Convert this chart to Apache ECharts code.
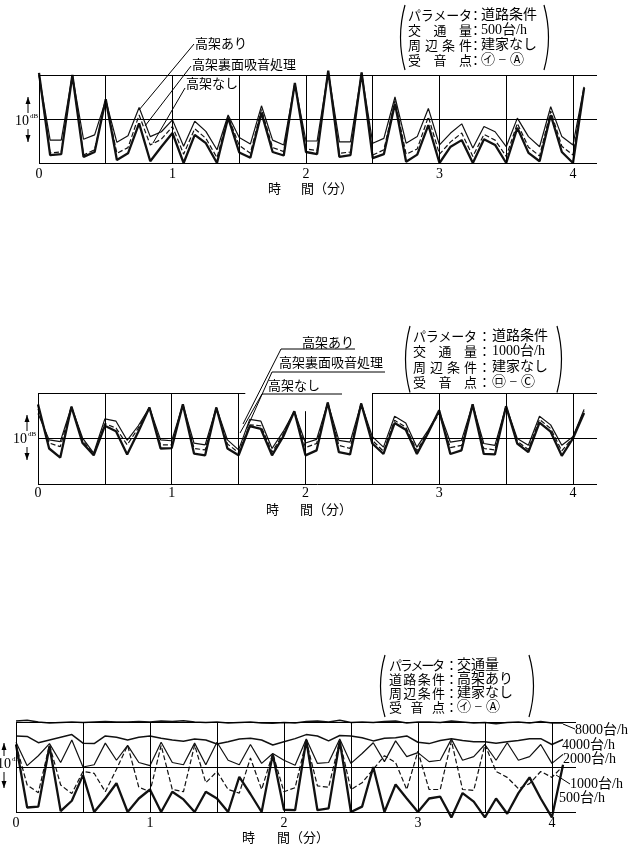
<!DOCTYPE html>
<html><head><meta charset="utf-8">
<script src="https://cdn.jsdelivr.net/npm/echarts/dist/echarts.min.js"></script>
<style>html,body{margin:0;padding:0;background:#fff}#c{width:637px;height:847px}</style>
</head><body><div id="c"></div>
<script>
// ---- data (time step: 5 s = 1/12 min) ----
const STEP = 1 / 12;
const xTickLabels = [0, 1, 2, 3, 4];
const gridTimes = [0, 0.5, 1, 1.5, 2, 2.5, 3, 3.5, 4];
const legend12 = ['高架あり', '高架裏面吸音処理', '高架なし'];
const legend3 = ['8000台/h', '4000台/h', '2000台/h', '1000台/h', '500台/h'];

// chart 1 (500台/h)
const c1Ari   = [20,5.2,5.2,20,5.4,6.4,14.3,4.7,6.2,12.6, 6.0,7.1,9.8,3.8,9.5,7.2,3.0,10.9,5.8,4.3, 13.0,5.2,4.1,18.1,5.0,5.0,20.8,4.8,4.8,20.5, 4.5,5.6,15.0,4.5,6.0,12.4,4.1,6.8,8.9,3.4, 8.3,7.1,3.7,10.2,6.0,3.7,12.8,6.0,4.1,17.3];
const c1Kyuon = [20,2.3,2.5,20,1.8,3.0,14.3,2.2,3.5,10.9, 4.1,5.4,8.3,2.0,7.8,5.6,1.2,10.6,4.0,2.2, 12.2,3.5,2.6,18.1,3.2,2.8,20.8,2.2,2.5,20.5, 1.8,3.0,14.2,2.0,3.2,10.5,2.0,4.8,6.8,1.5, 6.5,5.2,1.5,9.0,3.6,1.6,11.8,3.8,1.8,17.2];
const c1Nashi = [20.5,1.8,2.0,20,1.4,2.5,14.5,0.7,2.2,9.0, 0.4,3.7,6.8,0.0,6.4,4.5,0.0,10.3,2.4,1.2, 11.4,2.5,1.7,18.2,2.5,2.0,21,1.4,1.8,20.6, 1.1,2.0,13.5,0.3,1.9,8.6,0.0,3.7,5.2,0.0, 5.4,4.1,0.0,8.0,2.3,0.4,10.9,2.5,0.0,17.0];

// chart 2 (1000台/h)
const c2Ari   = [15.5,9.7,9.3,17.0,10.1,6.8,14.3,13.8,9.6,12.8, 16.8,9.7,9.5,17.5,9.0,8.6,16.8,9.7,7.5,14.2, 13.8,7.8,11.5,16.0,9.0,9.8,17.9,9.6,9.2,17.7, 10.4,8.1,14.9,13.4,8.1,11.8,16.0,9.2,9.6,17.5, 8.9,8.5,17.1,10.0,8.5,14.9,13.0,8.5,10.4,16.4];
const c2Kyuon = [16.5,9.0,8.2,17.0,9.6,6.5,13.3,12.3,8.6,12.3, 16.8,8.6,8.6,17.5,7.8,7.5,16.8,8.8,6.9,13.0, 12.8,7.0,11.0,16.0,8.0,8.9,17.9,8.5,7.8,17.7, 9.6,7.2,14.0,12.5,7.3,11.5,15.5,8.0,8.5,17.5, 7.8,7.5,17.1,9.4,7.6,14.2,12.2,7.3,10.2,16.0];
const c2Nashi = [17.5,7.8,5.8,17.0,9.0,6.3,12.8,11.6,6.5,11.5, 16.8,7.8,7.9,17.5,6.7,6.3,16.8,7.8,6.3,12.7, 12.1,6.3,10.4,16.0,6.3,7.4,17.9,7.0,6.5,17.7, 8.9,6.6,13.4,11.9,6.6,11.2,16.2,6.6,7.4,17.5, 6.6,6.5,17.1,8.9,7.0,13.5,11.5,6.2,10.0,15.6];

// chart 3 (traffic volume)
const c3v8000 = [20.2,20.4,20.0,19.8,19.9,20.0,19.9,20.0,20.1,20.0, 20.0,20.1,20.0,20.2,20.1,20.3,20.0,19.9,20.0,19.8, 19.9,20.0,19.8,19.7,19.9,19.8,20.1,20.2,20.0,20.4, 19.9,20.0,19.9,20.1,20.2,19.8,20.0,20.0,19.9,20.2, 20.0,19.8,19.9,19.6,19.9,20.0,19.8,20.1,19.8,19.8];
const c3v4000 = [16.9,16.8,15.4,16.0,16.6,17.2,15.3,15.2,16.9,16.6, 16.0,16.6,16.9,16.4,16.0,15.7,16.2,16.0,15.1,15.6, 16.2,16.4,16.0,14.9,15.6,16.3,17.2,16.9,15.8,17.0, 16.9,16.5,15.8,16.4,16.5,16.9,15.5,15.2,15.9,16.3, 15.9,15.6,15.6,15.3,15.6,15.9,16.3,16.3,15.0,16.1];
const c3v2000 = [15.5,10.3,12.5,15.2,11.0,16.0,10.0,10.5,15.3,11.5, 14.8,11.0,10.3,15.5,11.0,10.5,15.3,10.5,15.5,11.5, 10.5,15.0,10.8,13.0,11.5,10.4,16.2,10.8,11.0,16.2, 10.8,13.0,15.4,11.2,15.8,12.3,13.2,11.2,11.5,16.2, 11.5,12.3,15.0,11.5,15.4,11.5,12.3,15.0,10.8,12.8];
const c3v1000 = [15.0,6.0,4.3,14.9,6.0,4.1,9.0,8.6,4.5,9.5, 14.8,5.5,4.5,14.8,5.0,4.5,14.9,6.5,9.0,5.0, 4.2,12.0,5.0,13.0,4.5,5.4,15.8,5.8,5.5,15.8, 5.0,6.5,9.5,12.5,11.0,5.0,13.5,5.0,5.0,15.8, 5.0,4.8,15.0,9.0,7.7,5.2,6.3,9.0,7.7,10.2];
const c3v500  = [15.0,1.0,1.2,14.6,0.2,2.5,8.2,0.0,3.0,6.4, 0.0,3.0,5.0,0.0,4.5,2.8,0.0,4.5,3.0,0.0, 7.8,4.0,0.0,12.8,0.5,0.4,16.0,0.4,0.8,15.8, 0.0,1.2,10.0,0.0,6.1,3.0,0.0,3.0,3.4,-1.2, 4.2,2.3,-1.2,3.0,-0.4,4.2,7.7,3.0,-1.2,10.5];

// ---- build ----
const JP = '"Noto Sans CJK JP"';
const SERIF = '"Liberation Serif", "Noto Sans CJK JP"';
const XMAX = 4.18;
const chart = echarts.init(document.getElementById('c'), null, {renderer: 'canvas', width: 637, height: 847});

function pts(arr) { return arr.map((v, i) => [i * STEP, v]); }
function ser(name, arr, gi, kind, mark) {
  const s = {
    type: 'line', name: name, xAxisIndex: gi, yAxisIndex: gi, data: pts(arr),
    symbol: 'none', clip: false, animation: false, silent: true,
    lineStyle: {color: '#111', width: kind === 'thick' ? 2.3 : (kind === 'mid' ? 1.5 : 1.2), type: kind === 'dash' ? [5, 2.5] : 'solid'}
  };
  if (mark) s.markLine = mark;
  return s;
}
function gridMark(data) {
  return {silent: true, symbol: ['none', 'none'], animation: false, label: {show: false},
    lineStyle: {color: '#000', width: 1, type: 'solid'}, emphasis: {disabled: true}, data: data};
}
const full = gridTimes.map(t => ({xAxis: t})).concat([{yAxis: 0}, {yAxis: 10}, {yAxis: 20}]);
const mid = gridTimes.filter(t => t !== 2).map(t => ({xAxis: t})).concat([
  {yAxis: 0}, {yAxis: 10},
  [{coord: [0, 20]}, {coord: [1.55, 20]}],
  [{coord: [2.5, 20]}, {coord: [XMAX, 20]}],
  [{coord: [2, 16]}, {coord: [2, 0]}]
]);

const grids = [
  {left: 39, top: 75, width: 558, height: 88},
  {left: 38, top: 393, width: 559, height: 91},
  {left: 16, top: 722, width: 560, height: 90}
];
const margins = [4, 2, 4];
const xAxes = grids.map((g, i) => ({
  type: 'value', gridIndex: i, min: 0, max: XMAX, interval: 1,
  axisLine: {show: false}, axisTick: {show: false}, splitLine: {show: false},
  axisLabel: {margin: margins[i], fontFamily: 'Liberation Serif', fontSize: 14, color: '#000',
    formatter: v => (xTickLabels.indexOf(v) >= 0 ? String(v) : '')}
}));
const yAxes = grids.map((g, i) => ({type: 'value', gridIndex: i, min: 0, max: 20, show: false}));

const series = [
  ser(legend12[0], c1Ari, 0, 'thin', gridMark(full)),
  ser(legend12[1], c1Kyuon, 0, 'dash'),
  ser(legend12[2], c1Nashi, 0, 'thick'),
  ser(legend12[0], c2Ari, 1, 'thin', gridMark(mid)),
  ser(legend12[1], c2Kyuon, 1, 'dash'),
  ser(legend12[2], c2Nashi, 1, 'thick'),
  ser(legend3[0], c3v8000, 2, 'mid', gridMark(full)),
  ser(legend3[1], c3v4000, 2, 'mid'),
  ser(legend3[2], c3v2000, 2, 'thin'),
  ser(legend3[3], c3v1000, 2, 'dash'),
  ser(legend3[4], c3v500, 2, 'thick')
];

// ---- annotations ----
const G = [];
function txt(s, x, y, size, family, align) {
  G.push({type: 'text', x: x, y: y, silent: true,
    style: {text: s, font: size + 'px ' + (family || JP), fill: '#000', textAlign: align || 'left', textVerticalAlign: 'middle'}});
}
function ln(x1, y1, x2, y2, w) {
  G.push({type: 'line', silent: true, shape: {x1, y1, x2, y2}, style: {stroke: '#000', lineWidth: w || 1}});
}
function paren(x, y1, y2, dir) {
  G.push({type: 'bezierCurve', silent: true,
    shape: {x1: x, y1: y1, x2: x, y2: y2, cpx1: x - dir * 9, cpy1: (y1 + y2) / 2},
    style: {stroke: '#000', lineWidth: 1.2, fill: null}});
}
function arrowTip(x, y, up) {
  const d = up ? 1 : -1;
  G.push({type: 'polygon', silent: true, shape: {points: [[x, y], [x - 2.5, y + d * 7], [x + 2.5, y + d * 7]]}, style: {fill: '#000'}});
}
function dbMark(xArrow, yTop, yBot, xText, yText) {
  ln(xArrow, yTop, xArrow, yText - 8); arrowTip(xArrow, yTop, true);
  ln(xArrow, yText + 8, xArrow, yBot); arrowTip(xArrow, yBot, false);
  txt('10', xText, yText, 14, SERIF, 'right');
  txt('dB', xText + 1, yText - 5, 7, SERIF, 'left');
}
function paramBox(x0, rows, yStart, dy, labelW, colonX, valX, size, vsize, pL, pR) {
  rows.forEach((r, i) => {
    const y = yStart + i * dy;
    const chars = Array.from(r[0]);
    const n = chars.length;
    chars.forEach((ch, j) => {
      const cx = n === 1 ? x0 : x0 + j * (labelW - size) / (n - 1);
      txt(ch, cx, y, size, JP, 'left');
    });
    txt('：', colonX, y, size, JP, 'left');
    txt(r[1], valX, y, vsize, SERIF, 'left');
  });
  paren(pL, yStart - 10, yStart + dy * (rows.length - 1) + 10, 1);
  paren(pR, yStart - 10, yStart + dy * (rows.length - 1) + 10, -1);
}

// chart 1 annotations
paramBox(408, [['パラメータ', '道路条件'], ['交通量', '500台/h'], ['周辺条件', '建家なし'], ['受音点', '㋑ − Ⓐ']],
  15, 15, 64, 469, 481, 13, 14, 405, 544);
txt(legend12[0], 195, 43, 13); txt(legend12[1], 192, 64, 13); txt(legend12[2], 186, 83, 13);
ln(194, 44, 139, 110); ln(191, 66, 145, 126); ln(185, 88, 153, 143);
dbMark(28, 97, 142, 29, 121);
txt('時', 268, 188, 13); txt('間（分）', 301, 188, 13);

// chart 2 annotations
paramBox(413, [['パラメータ', '道路条件'], ['交通量', '1000台/h'], ['周辺条件', '建家なし'], ['受音点', '㋺ − Ⓒ']],
  336, 15.5, 64, 478, 492, 13, 14, 410, 557);
txt(legend12[0], 302, 342, 13); txt(legend12[1], 279, 362, 13); txt(legend12[2], 268, 385, 13);
ln(281, 349, 355, 349); ln(272, 372, 385, 372); ln(262, 394, 342, 394);
ln(281, 349, 243, 424); ln(272, 372, 247, 428); ln(262, 394, 240, 433);
dbMark(27, 415, 460, 27, 439);
txt('時', 266, 509, 13); txt('間（分）', 300, 509, 13);

// chart 3 annotations
paramBox(389, [['パラメータ', '交通量'], ['道路条件', '高架あり'], ['周辺条件', '建家なし'], ['受音点', '㋑ − Ⓐ']],
  665, 14, 56, 445, 457, 13, 14, 385, 529);
txt(legend3[0], 575, 730, 14, SERIF); txt(legend3[1], 562, 745, 14, SERIF);
txt(legend3[2], 563, 759, 14, SERIF); txt(legend3[3], 570, 784, 14, SERIF); txt(legend3[4], 559, 798, 14, SERIF);
ln(563, 724, 575, 729); ln(556, 775, 570, 784);
dbMark(4, 743, 788, 11, 764);
txt('時', 242, 837, 13); txt('間（分）', 277, 837, 13);

chart.setOption({
  animation: false,
  backgroundColor: '#fff',
  grid: grids,
  xAxis: xAxes,
  yAxis: yAxes,
  series: series,
  graphic: {elements: G}
});
</script>
</body></html>
